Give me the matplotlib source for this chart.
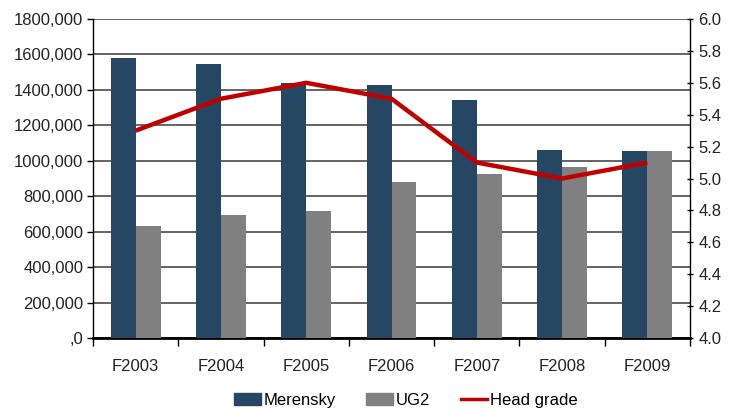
import numpy as np
import matplotlib.pyplot as plt
from matplotlib.lines import Line2D
from matplotlib.patches import Patch

# data
years = ['F2003', 'F2004', 'F2005', 'F2006', 'F2007', 'F2008', 'F2009']
merensky = [1580000, 1546000, 1437000, 1428000, 1343000, 1061000, 1055000]
ug2 = [632000, 694000, 717000, 880000, 925000, 963000, 1055000]
head_grade = [5.3, 5.5, 5.6, 5.5, 5.1, 5.0, 5.1]

left_ticks = [0, 200000, 400000, 600000, 800000, 1000000, 1200000, 1400000, 1600000, 1800000]
left_labels = [',0', '200,000', '400,000', '600,000', '800,000', '1000,000',
               '1200,000', '1400,000', '1600,000', '1800,000']
right_ticks = [4.0, 4.2, 4.4, 4.6, 4.8, 5.0, 5.2, 5.4, 5.6, 5.8, 6.0]

plt.rcParams['font.family'] = ['Liberation Sans', 'DejaVu Sans']
FS = 12

fig = plt.figure(figsize=(7.3, 4.11), dpi=100)
ax = fig.add_axes([93 / 730, 1 - 338 / 411, (690 - 93) / 730, (338 - 19) / 411])
x = np.arange(len(years))
w = 0.293

ax.bar(x - w / 2, merensky, w, color='#264763', zorder=3)
ax.bar(x + w / 2, ug2, w, color='#808080', zorder=3)
ax.set_xlim(-0.5, len(years) - 0.5)
ax.set_ylim(0, 1800000)
ax.set_yticks(left_ticks)
ax.set_yticklabels(left_labels, fontsize=FS, color='#222222')
ax.set_xticks(x)
ax.set_xticklabels(years, fontsize=FS, color='#222222')
ax.tick_params(axis='x', length=0, pad=15)
ax.set_xticks(np.arange(-0.5, len(years)), minor=True)
ax.tick_params(axis='x', which='minor', length=6, width=1, direction='out')
ax.tick_params(axis='y', length=4, width=1, direction='out', pad=3)
ax.grid(axis='y', color='#4a4a4a', linewidth=1.2, zorder=0)
ax.spines['top'].set_visible(False)
ax.spines['right'].set_visible(False)
ax.spines['bottom'].set_linewidth(2)
ax.spines['left'].set_linewidth(1)

ax2 = ax.twinx()
ax2.plot(x, head_grade, color='#C00000', linewidth=3.2, zorder=4, solid_capstyle='butt')
ax2.set_ylim(4.0, 6.0)
ax2.set_yticks(right_ticks)
ax2.set_yticklabels(['%.1f' % t for t in right_ticks], fontsize=FS, color='#222222')
ax2.tick_params(axis='y', length=4, width=1, direction='inout', pad=4)
ax2.spines['top'].set_visible(False)
ax2.spines['left'].set_visible(False)
ax2.spines['bottom'].set_visible(False)
ax2.spines['right'].set_linewidth(1)

handles = [Patch(color='#264763'), Patch(color='#808080'),
           Line2D([], [], color='#C00000', linewidth=2.5)]
fig.legend(handles, ['Merensky', 'UG2', 'Head grade'], loc='center',
           bbox_to_anchor=(406 / 730, 1 - 400 / 411), ncol=3, frameon=False,
           fontsize=FS, handlelength=1.6, handleheight=0.7,
           columnspacing=1.8, handletextpad=0.2)

fig.savefig('out.png', dpi=100)
